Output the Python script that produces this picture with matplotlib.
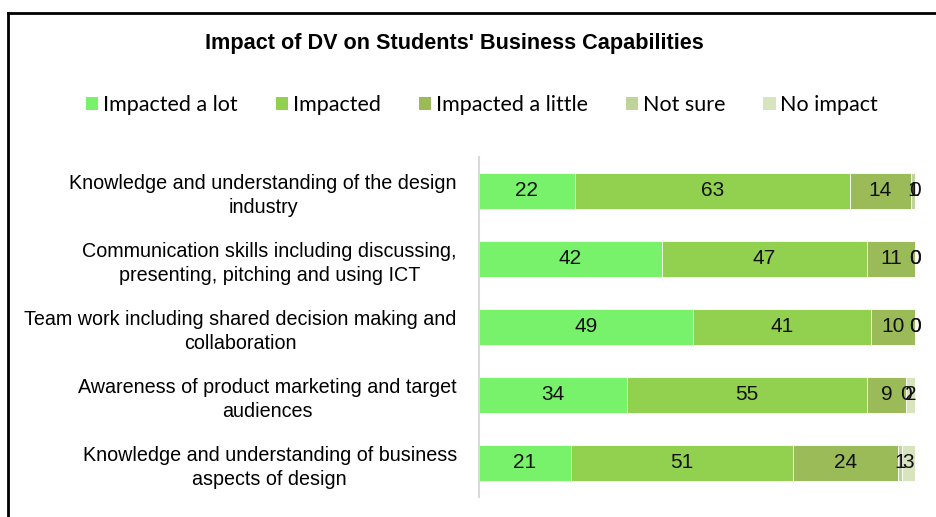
import numpy as np
import matplotlib
matplotlib.use("Agg")
from matplotlib import pyplot as plt
from matplotlib.patches import Patch
from matplotlib.lines import Line2D

categories = [
    "Knowledge and understanding of the design\nindustry",
    "Communication skills including discussing,\npresenting, pitching and using ICT",
    "Team work including shared decision making and\ncollaboration",
    "Awareness of product marketing and target\naudiences",
    "Knowledge and understanding of business\naspects of design",
]
series = ["Impacted a lot", "Impacted", "Impacted a little", "Not sure", "No impact"]
impacted_lot = [22, 42, 49, 34, 21]
impacted = [63, 47, 41, 55, 51]
impacted_little = [14, 11, 10, 9, 24]
not_sure = [1, 0, 0, 0, 1]
no_impact = [0, 0, 0, 2, 3]
colors = ["#77F26A", "#92D050", "#9BBB59", "#BFD49A", "#D7E4BD"]

values = [impacted_lot, impacted, impacted_little, not_sure, no_impact]
arial = ["Liberation Sans", "DejaVu Sans"]

fig = plt.figure(figsize=(9.36, 5.17), dpi=100)
ax = fig.add_axes([479 / 936, 1 - 497 / 517, 436 / 936, 340 / 517])

y = np.arange(len(categories))
left = np.zeros(len(categories))
for vals, col in zip(values, colors):
    vals = np.array(vals, dtype=float)
    ax.barh(y, vals, left=left, height=0.52, color=col, edgecolor="white", linewidth=0.6)
    for yi, l, v in zip(y, left, vals):
        ax.text(l + v / 2, yi, f"{int(v)}", ha="center", va="center", fontsize=15,
                family=arial, color="#111111")
    left += vals

ax.set_xlim(0, 100)
ax.set_ylim(len(categories) - 0.5, -0.5)
ax.set_xticks([])
ax.set_yticks(y)
ax.set_yticklabels(categories, fontsize=14.2, family=arial, linespacing=1.35, multialignment="center")
ax.tick_params(axis="y", length=0, pad=16)
for s in ["top", "right", "bottom"]:
    ax.spines[s].set_visible(False)
ax.spines["left"].set_color("#D9D9D9")
ax.spines["left"].set_linewidth(1.5)

fig.text(454 / 936, 1 - 44 / 517, "Impact of DV on Students' Business Capabilities", ha="center", va="center",
         fontsize=15.6, fontweight="bold", family=arial)

handles = [Patch(facecolor=c, edgecolor="none") for c in colors]
fig.legend(handles, series, loc="center", bbox_to_anchor=(482 / 936, 1 - 105 / 517), ncol=5, frameon=False,
           prop={"family": ["Lato", "DejaVu Sans"], "size": 15.5}, handlelength=0.56, handleheight=0.56,
           handletextpad=0.22, columnspacing=1.78)

# outer frame (runs off right and bottom edges)
fig.add_artist(Line2D([8 / 936, 1.0], [1 - 13 / 517, 1 - 13 / 517], transform=fig.transFigure, color="black", lw=2))
fig.add_artist(Line2D([8 / 936, 8 / 936], [1 - 13 / 517, 0.0], transform=fig.transFigure, color="black", lw=2))

fig.savefig("out.png", dpi=100)
